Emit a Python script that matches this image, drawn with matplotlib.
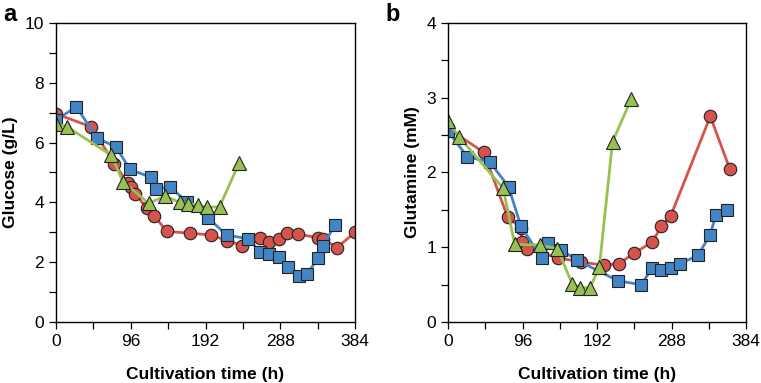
import matplotlib.pyplot as plt
from matplotlib.ticker import MultipleLocator

plt.rcParams['font.family'] = ['Liberation Sans', 'DejaVu Sans']

RED = '#d5534a'
BLUE = '#4285c6'
GREEN = '#98c154'

# panel a: glucose (g/L)
glc_red_t = [0, 45, 75, 92, 96, 102, 117, 126, 142, 172, 199, 220, 239, 262, 273, 286, 297, 311, 336, 343, 361, 384]
glc_red_v = [6.96, 6.53, 5.3, 4.64, 4.53, 4.27, 3.80, 3.56, 3.03, 2.97, 2.91, 2.72, 2.55, 2.82, 2.67, 2.77, 2.97, 2.94, 2.82, 2.77, 2.49, 3.0]
glc_blue_t = [0, 26, 53, 77, 95, 122, 128, 147, 168, 195, 219, 247, 262, 274, 287, 298, 312, 322, 337, 343, 358]
glc_blue_v = [6.75, 7.2, 6.14, 5.86, 5.1, 4.84, 4.45, 4.52, 4.0, 3.49, 2.91, 2.78, 2.35, 2.27, 2.18, 1.83, 1.54, 1.59, 2.15, 2.55, 3.24]
glc_green_t = [0, 14, 71, 86, 119, 140, 159, 170, 182, 194, 210, 235]
glc_green_v = [6.62, 6.53, 5.58, 4.69, 3.97, 4.21, 4.0, 3.96, 3.91, 3.84, 3.85, 5.31]

# panel b: glutamine (mM)
gln_red_t = [0, 46, 77, 94, 95, 102, 142, 172, 201, 220, 240, 263, 275, 287, 338, 363]
gln_red_v = [2.59, 2.27, 1.40, 1.26, 1.07, 0.98, 0.86, 0.80, 0.76, 0.78, 0.92, 1.07, 1.28, 1.42, 2.75, 2.05]
gln_blue_t = [0, 25, 54, 78, 94, 121, 129, 146, 166, 219, 249, 263, 275, 287, 299, 322, 338, 345, 360]
gln_blue_v = [2.55, 2.21, 2.14, 1.81, 1.28, 0.85, 1.06, 0.96, 0.83, 0.55, 0.50, 0.72, 0.69, 0.72, 0.78, 0.89, 1.17, 1.43, 1.50]
gln_green_t = [0, 14, 71, 86, 118, 141, 160, 170, 183, 195, 212, 236]
gln_green_v = [2.69, 2.48, 1.79, 1.04, 1.03, 0.98, 0.51, 0.46, 0.46, 0.73, 2.41, 2.98]

fig = plt.figure(figsize=(7.61, 3.83), dpi=100)
ax1 = fig.add_axes([0.0736, 0.1593, 0.3929, 0.7807])
ax2 = fig.add_axes([0.5887, 0.1593, 0.3916, 0.7807])


def series(ax, t, v, color, marker, ms):
    ax.plot(t, v, color=color, lw=2, marker=marker, ms=ms,
            markerfacecolor=color, markeredgecolor='#222222', markeredgewidth=0.8)


def style(ax, ymax, ystep, ylabel):
    ax.set_xlim(0, 384)
    ax.set_ylim(0, ymax)
    ax.xaxis.set_major_locator(MultipleLocator(96))
    ax.xaxis.set_minor_locator(MultipleLocator(48))
    ax.yaxis.set_major_locator(MultipleLocator(ystep))
    ax.yaxis.set_minor_locator(MultipleLocator(ystep / 2))
    ax.tick_params(which='both', direction='out', length=5, width=0.9,
                   top=False, right=False, labelsize=12.5)
    for s in ax.spines.values():
        s.set_linewidth(1.0)
    ax.set_xlabel('Cultivation time (h)', fontsize=12.5, fontweight='bold', labelpad=13)
    ax.set_ylabel(ylabel, fontsize=12.5, fontweight='bold', labelpad=5)


series(ax1, glc_red_t, glc_red_v, RED, 'o', 9)
series(ax1, glc_blue_t, glc_blue_v, BLUE, 's', 8.5)
series(ax1, glc_green_t, glc_green_v, GREEN, '^', 9.5)
style(ax1, 10, 2, 'Glucose (g/L)')

series(ax2, gln_red_t, gln_red_v, RED, 'o', 9)
series(ax2, gln_blue_t, gln_blue_v, BLUE, 's', 8.5)
series(ax2, gln_green_t, gln_green_v, GREEN, '^', 9.5)
style(ax2, 4, 1, 'Glutamine (mM)')

fig.text(0.004, 0.945, 'a', fontsize=17, fontweight='bold')
fig.text(0.507, 0.945, 'b', fontsize=17, fontweight='bold')

fig.savefig('out.png', dpi=100)
